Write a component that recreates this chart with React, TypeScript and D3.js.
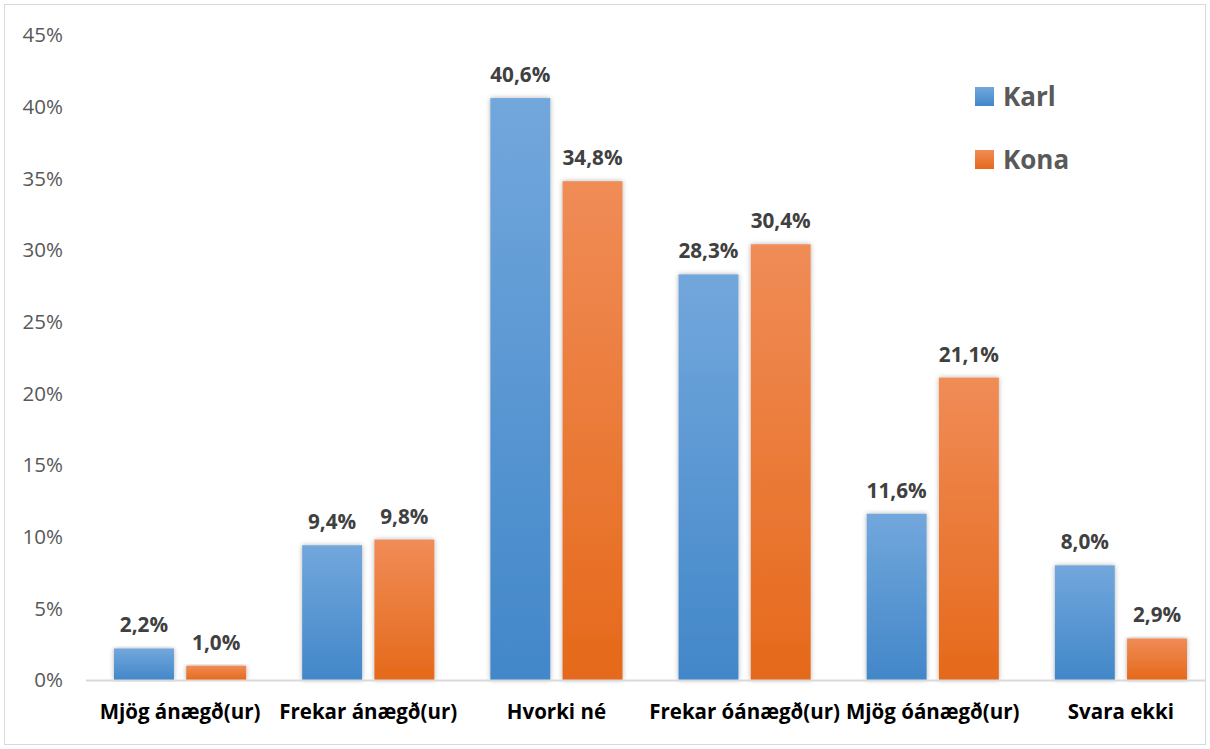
import React from "react";
import * as d3 from "d3";

const categories = [
  "Mjög ánægð(ur)",
  "Frekar ánægð(ur)",
  "Hvorki né",
  "Frekar óánægð(ur)",
  "Mjög óánægð(ur)",
  "Svara ekki",
];
const karl = [2.2, 9.4, 40.6, 28.3, 11.6, 8.0];
const kona = [1.0, 9.8, 34.8, 30.4, 21.1, 2.9];
const seriesNames = ["Karl", "Kona"];
const yTicks = [0, 5, 10, 15, 20, 25, 30, 35, 40, 45];

const W = 1210;
const H = 749;
const font = "'Open Sans', 'Liberation Sans', sans-serif";

export default function App() {
  const x = d3.scaleBand<string>().domain(categories).range([86, 1215]);
  const y = d3.scaleLinear().domain([0, 45]).range([680, 35]);
  const inner = d3
    .scaleBand<string>()
    .domain(seriesNames)
    .range([28, x.bandwidth() - 28])
    .paddingInner(0.17);

  const series = [
    { name: "Karl", values: karl, fill: "url(#gBlue)" },
    { name: "Kona", values: kona, fill: "url(#gOrange)" },
  ];
  const fmt = (v: number) => v.toFixed(1).replace(".", ",") + "%";

  return (
    <svg width={W} height={H} style={{ position: "absolute", left: 0, top: 0 }}>
      <defs>
        <linearGradient id="gBlue" x1="0" y1="0" x2="0" y2="1">
          <stop offset="0%" stopColor="#72a7dc" />
          <stop offset="100%" stopColor="#4287c9" />
        </linearGradient>
        <linearGradient id="gOrange" x1="0" y1="0" x2="0" y2="1">
          <stop offset="0%" stopColor="#f08c57" />
          <stop offset="100%" stopColor="#e5691a" />
        </linearGradient>
        <filter id="shadow" x="-20%" y="-5%" width="140%" height="110%">
          <feDropShadow dx="0" dy="0" stdDeviation="2.5" floodColor="#000" floodOpacity="0.3" />
        </filter>
      </defs>
      <rect x={0} y={0} width={W} height={H} fill="#fff" />
      <rect x={4.5} y={4.5} width={W - 9} height={H - 9} fill="none" stroke="#d9d9d9" strokeWidth={1} />

      {yTicks.map((t) => (
        <text
          key={t}
          x={63}
          y={y(t)}
          dy="0.35em"
          textAnchor="end"
          fontFamily={font}
          fontSize={20.5}
          fill="#595959"
        >
          {t}%
        </text>
      ))}

      {series.map((s) =>
        s.values.map((v, i) => {
          const bx = (x(categories[i]) ?? 0) + (inner(s.name) ?? 0);
          const bw = inner.bandwidth();
          return (
            <g key={s.name + i}>
              <rect
                x={bx}
                y={y(v)}
                width={bw}
                height={y(0) - y(v)}
                fill={s.fill}
                filter="url(#shadow)"
              />
              <text
                x={bx + bw / 2}
                y={y(v) - 16}
                textAnchor="middle"
                fontFamily={font}
                fontWeight="bold"
                fontSize={20.7}
                fill="#404040"
              >
                {fmt(v)}
              </text>
            </g>
          );
        })
      )}

      <line x1={86} x2={1205} y1={680.5} y2={680.5} stroke="#d9d9d9" strokeWidth={2} />

      {categories.map((c) => (
        <text
          key={c}
          x={(x(c) ?? 0) + x.bandwidth() / 2}
          y={712}
          dy="0.35em"
          textAnchor="middle"
          fontFamily={font}
          fontWeight="bold"
          fontSize={20.5}
          fill="#000"
        >
          {c}
        </text>
      ))}

      {series.map((s, i) => (
        <g key={s.name} transform={`translate(975,${87 + i * 63})`}>
          <rect x={0} y={0} width={19} height={19} fill={s.fill} />
          <text x={28} y={10} dy="0.35em" fontFamily={font} fontWeight="bold" fontSize={26} fill="#595959">
            {s.name}
          </text>
        </g>
      ))}
    </svg>
  );
}
